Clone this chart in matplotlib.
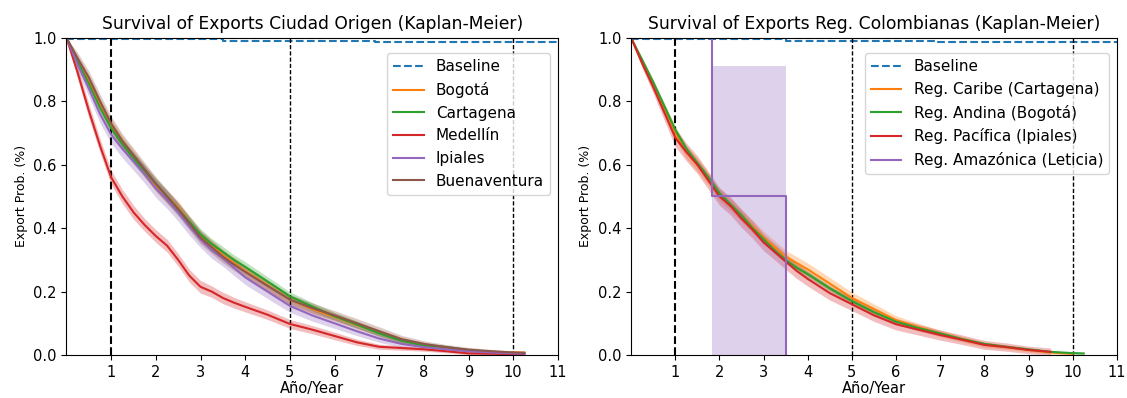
import numpy as np
import matplotlib
matplotlib.use('Agg')
import matplotlib.pyplot as plt

t = [0, 0.25, 0.5, 0.75, 1, 1.25, 1.5, 1.75, 2, 2.25, 2.5, 2.75, 3, 3.25, 3.5, 3.75,
     4, 4.5, 5, 5.5, 6, 6.5, 7, 7.5, 8, 8.5, 9, 9.5, 10, 10.25]

# baseline
base_t = [0, 1.5, 3.5, 6.9, 11]
base_s = [0.997, 0.995, 0.991, 0.987, 0.987]

# --- left panel: cities
city_names = ['Bogotá', 'Cartagena', 'Medellín', 'Ipiales', 'Buenaventura']
bogota = [1, 0.93, 0.865, 0.79, 0.725, 0.67, 0.625, 0.58, 0.535, 0.5, 0.465, 0.42, 0.375, 0.345, 0.315, 0.29,
          0.265, 0.22, 0.175, 0.145, 0.12, 0.095, 0.07, 0.047, 0.032, 0.022, 0.014, 0.01, 0.008, 0.008]
cartagena = [1, 0.925, 0.855, 0.78, 0.715, 0.665, 0.62, 0.58, 0.54, 0.5, 0.46, 0.42, 0.38, 0.35, 0.325, 0.3,
             0.278, 0.232, 0.185, 0.153, 0.122, 0.096, 0.068, 0.045, 0.03, 0.025, 0.015, 0.01, 0.006, 0.005]
medellin = [1, 0.89, 0.77, 0.66, 0.56, 0.5, 0.45, 0.41, 0.375, 0.345, 0.3, 0.25, 0.215, 0.2, 0.18, 0.165,
            0.152, 0.127, 0.098, 0.08, 0.06, 0.04, 0.026, 0.022, 0.018, 0.012, 0.005, 0.004, 0.003, 0.003]
ipiales = [1, 0.915, 0.84, 0.76, 0.695, 0.65, 0.61, 0.57, 0.525, 0.49, 0.45, 0.405, 0.365, 0.33, 0.305, 0.275,
           0.245, 0.2, 0.155, 0.125, 0.1, 0.075, 0.052, 0.035, 0.025, 0.018, 0.012, 0.008, 0.005, 0.004]
buenaventura = [1, 0.935, 0.875, 0.8, 0.73, 0.675, 0.63, 0.585, 0.54, 0.5, 0.46, 0.415, 0.37, 0.34, 0.31, 0.285,
                0.262, 0.218, 0.175, 0.148, 0.125, 0.1, 0.075, 0.05, 0.035, 0.025, 0.017, 0.012, 0.008, 0.007]

# half width of the confidence bands (same time grid)
ci_bogota = [0, .015, .018, .02, .02, .02, .02, .02, .02, .02, .02, .02, .019, .018, .018, .017,
             .017, .016, .015, .014, .013, .012, .011, .01, .008, .007, .006, .005, .004, .004]
ci_cartagena = [0, .014, .016, .018, .018, .018, .018, .018, .018, .018, .018, .018, .018, .017, .017, .016,
                .016, .015, .014, .013, .012, .011, .01, .009, .007, .006, .005, .004, .003, .003]
ci_medellin = [0, .02, .022, .022, .022, .022, .022, .02, .02, .02, .02, .02, .02, .018, .018, .017,
               .016, .015, .014, .013, .012, .01, .008, .007, .006, .005, .004, .003, .003, .003]
ci_ipiales = [0, .02, .025, .028, .028, .028, .028, .028, .028, .028, .028, .027, .026, .025, .025, .024,
              .023, .022, .02, .018, .016, .014, .012, .01, .008, .007, .006, .005, .004, .004]
ci_buenaventura = [0, .018, .02, .022, .022, .022, .022, .022, .022, .022, .022, .021, .02, .02, .019, .019,
                   .018, .017, .016, .016, .015, .015, .014, .012, .01, .008, .007, .006, .005, .004]

# --- right panel: regions
region_names = ['Reg. Caribe (Cartagena)', 'Reg. Andina (Bogotá)', 'Reg. Pacífica (Ipiales)']
caribe = [1, 0.92, 0.85, 0.775, 0.70, 0.64, 0.60, 0.555, 0.505, 0.475, 0.44, 0.405, 0.37, 0.34, 0.31, 0.29,
          0.27, 0.225, 0.18, 0.145, 0.11, 0.088, 0.068, 0.05, 0.033, 0.025, 0.016, 0.008, 0.004, None]
andina = [1, 0.93, 0.86, 0.785, 0.71, 0.65, 0.605, 0.56, 0.51, 0.475, 0.44, 0.40, 0.365, 0.33, 0.30, 0.275,
          0.255, 0.21, 0.17, 0.135, 0.105, 0.085, 0.068, 0.05, 0.035, 0.026, 0.018, 0.01, 0.006, 0.005]
pacifica = [1, 0.92, 0.845, 0.765, 0.685, 0.64, 0.60, 0.55, 0.50, 0.47, 0.43, 0.395, 0.355, 0.325, 0.295, 0.265,
            0.24, 0.195, 0.16, 0.125, 0.097, 0.08, 0.063, 0.048, 0.032, 0.025, 0.016, 0.01, None, None]
ci_caribe = [0, .012, .015, .018, .02, .02, .02, .02, .02, .02, .02, .02, .02, .02, .02, .02,
             .02, .019, .018, .016, .014, .012, .01, .009, .008, .007, .006, .005, .004, None]
ci_andina = [0, .008, .009, .01, .01, .01, .01, .01, .01, .01, .01, .01, .01, .01, .01, .01,
             .01, .009, .009, .008, .008, .007, .006, .005, .005, .004, .004, .003, .003, .003]
ci_pacifica = [0, .015, .02, .025, .028, .028, .028, .028, .028, .028, .028, .027, .026, .025, .025, .024,
               .023, .022, .02, .019, .018, .017, .016, .015, .014, .013, .012, .012, None, None]

# Amazónica: single event curve
amaz_t = [0, 1.84, 3.5]
amaz_s = [1.0, 0.5, 0.0]
amaz_lo = [1.0, 0.0, 0.0]
amaz_hi = [1.0, 0.91, 0.91]

colors = ['#ff7f0e', '#2ca02c', '#d62728', '#9467bd', '#8c564b']


def draw_curve(ax, s, ci, color, label):
    keep = [i for i, v in enumerate(s) if v is not None]
    tt = np.array([t[i] for i in keep])
    ss = np.array([s[i] for i in keep])
    cc = np.array([ci[i] for i in keep])
    lo = np.clip(ss - cc, 0, 1)
    hi = np.clip(ss + cc, 0, 1)
    ax.fill_between(tt, lo, hi, color=color, alpha=0.3, lw=0)
    ax.plot(tt, ss, color=color, lw=1.5, label=label)


def setup(ax, title):
    ax.plot(base_t, base_s, '--', color='#1f77b4', lw=1.5, drawstyle='steps-post', label='Baseline')
    ax.axvline(1, color='black', ls='--', lw=1.5)
    ax.axvline(5, color='black', ls=(0, (3, 1.5)), lw=1)
    ax.axvline(10, color='black', ls=(0, (3, 1.5)), lw=1)
    ax.set_xlim(0, 11)
    ax.set_ylim(0, 1)
    ax.set_xticks(range(1, 12))
    ax.set_yticks([0, 0.2, 0.4, 0.6, 0.8, 1.0])
    ax.tick_params(labelsize=10.5)
    ax.set_title(title, fontsize=12.3)
    ax.set_xlabel('Año/Year', fontsize=10.5, labelpad=1)
    ax.set_ylabel('Export Prob. (%)', fontsize=9)


fig = plt.figure(figsize=(11.27, 3.98), dpi=100)
ax1 = fig.add_axes([0.059, 0.108, 0.436, 0.797])
ax2 = fig.add_axes([0.56, 0.108, 0.431, 0.797])

setup(ax1, 'Survival of Exports Ciudad Origen (Kaplan-Meier)')
city_data = [bogota, cartagena, medellin, ipiales, buenaventura]
city_ci = [ci_bogota, ci_cartagena, ci_medellin, ci_ipiales, ci_buenaventura]
for s, ci, c, name in zip(city_data, city_ci, colors, city_names):
    draw_curve(ax1, s, ci, c, name)
ax1.legend(loc='upper right', fontsize=11, bbox_to_anchor=(1.0, 0.975))

setup(ax2, 'Survival of Exports Reg. Colombianas (Kaplan-Meier)')
for s, ci, c, name in zip([caribe, andina, pacifica], [ci_caribe, ci_andina, ci_pacifica], colors, region_names):
    draw_curve(ax2, s, ci, c, name)
ax2.fill_between(amaz_t, amaz_lo, amaz_hi, step='post', color=colors[3], alpha=0.3, lw=0)
ax2.plot(amaz_t, amaz_s, color=colors[3], lw=1.5, drawstyle='steps-post', label='Reg. Amazónica (Leticia)')
ax2.legend(loc='upper right', fontsize=11, bbox_to_anchor=(1.0, 0.975))

plt.savefig('out.png', dpi=100)
plt.close()
